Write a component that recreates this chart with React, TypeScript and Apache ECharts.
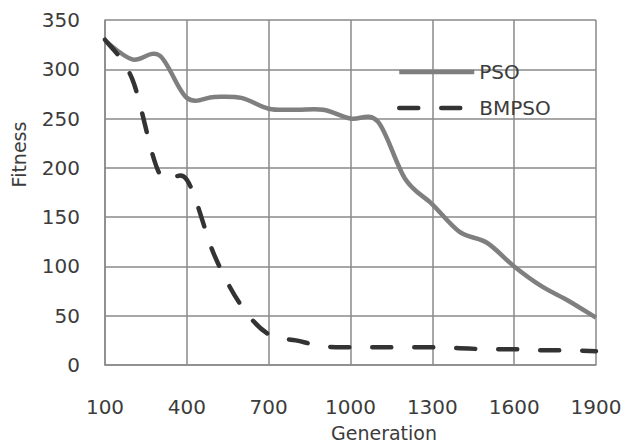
import React, { useEffect, useRef } from "react";
import * as echarts from "echarts";

const generations = [100, 200, 300, 400, 500, 600, 700, 800, 900, 1000, 1100, 1200, 1300, 1400, 1500, 1600, 1700, 1800, 1900];
const psoValues = [329, 310, 314, 271, 272, 271, 260, 259, 259, 250, 247, 189, 163, 135, 124, 100, 80, 65, 48];
const bmpsoValues = [330, 290, 194, 188, 112, 60, 31, 25, 19, 18, 18, 18, 18, 17, 16, 16, 15, 15, 14];
const seriesNames = ["PSO", "BMPSO"];

const FONT = "DejaVu Sans";
const TEXT = "#3c3c3c";
const GRID = "#8a8a8a";
const PSO_COLOR = "#7f7f7f";
const BMPSO_COLOR = "#333333";
const DASH = [19, 23];

function splinePath(pts: number[][]): string {
  let d = `M${pts[0][0]},${pts[0][1]}`;
  for (let i = 0; i < pts.length - 1; i++) {
    const p0 = pts[i - 1] || pts[i];
    const p1 = pts[i];
    const p2 = pts[i + 1];
    const p3 = pts[i + 2] || pts[i + 1];
    const c1x = p1[0] + (p2[0] - p0[0]) / 6;
    const c1y = p1[1] + (p2[1] - p0[1]) / 6;
    const c2x = p2[0] - (p3[0] - p1[0]) / 6;
    const c2y = p2[1] - (p3[1] - p1[1]) / 6;
    d += ` C${c1x},${c1y} ${c2x},${c2y} ${p2[0]},${p2[1]}`;
  }
  return d;
}

function curveSeries(name: string, values: number[], color: string, dash: number[] | null) {
  return {
    name,
    type: "custom",
    silent: true,
    data: generations.map((g, i) => [g, values[i]]),
    encode: { x: 0, y: 1 },
    renderItem: (params: any, api: any) => {
      if (params.dataIndex !== 0) return null;
      const pts = generations.map((g, i) => api.coord([g, values[i]]));
      return {
        type: "path",
        shape: { pathData: splinePath(pts) },
        style: {
          fill: "none",
          stroke: color,
          lineWidth: 4.5,
          lineDash: dash || undefined,
          lineCap: dash ? "round" : "butt",
          lineJoin: "round",
        },
      };
    },
  };
}

export default function App() {
  const ref = useRef<HTMLDivElement>(null);
  useEffect(() => {
    if (!ref.current) return;
    const chart = echarts.init(ref.current, null, { renderer: "svg" });
    chart.setOption({
      animation: false,
      backgroundColor: "#ffffff",
      grid: { left: 105, right: 30, top: 20, bottom: 76, containLabel: false },
      legend: {
        data: [
          { name: seriesNames[0], itemStyle: { opacity: 0 }, lineStyle: { color: PSO_COLOR, width: 4.5 } },
          { name: seriesNames[1], itemStyle: { opacity: 0 }, lineStyle: { color: BMPSO_COLOR, width: 4.5, type: DASH, cap: "round" } },
        ],
        orient: "vertical",
        left: 397,
        top: 62,
        padding: 0,
        itemWidth: 75,
        itemHeight: 20,
        itemGap: 16,
        textStyle: { fontFamily: FONT, fontSize: 20, color: TEXT },
      },
      xAxis: {
        type: "value",
        min: 100,
        max: 1900,
        interval: 300,
        name: "Generation",
        nameLocation: "middle",
        nameGap: 58,
        nameTextStyle: { fontFamily: FONT, fontSize: 19, color: TEXT, padding: [0, 0, 0, 67] },
        axisLine: { show: true, lineStyle: { color: GRID, width: 1.5 } },
        axisTick: { show: false },
        axisLabel: { fontFamily: FONT, fontSize: 20, color: TEXT, margin: 32, formatter: (v: number) => String(v) },
        splitLine: { show: true, lineStyle: { color: GRID, width: 1.5 } },
      },
      yAxis: {
        type: "value",
        min: 0,
        max: 350,
        interval: 50,
        name: "Fitness",
        nameLocation: "middle",
        nameGap: 77,
        nameTextStyle: { fontFamily: FONT, fontSize: 19, color: TEXT, padding: [0, 0, 0, 76] },
        axisLine: { show: true, lineStyle: { color: GRID, width: 1.5 } },
        axisTick: { show: false },
        axisLabel: { fontFamily: FONT, fontSize: 20, color: TEXT, margin: 25, formatter: (v: number) => String(v) },
        splitLine: { show: true, lineStyle: { color: GRID, width: 1.5 } },
      },
      series: [
        {
          name: seriesNames[0],
          type: "line",
          data: [],
          symbol: "none",
          lineStyle: { color: PSO_COLOR, width: 4.5 },
          itemStyle: { color: PSO_COLOR },
        },
        {
          name: seriesNames[1],
          type: "line",
          data: [],
          symbol: "none",
          lineStyle: { color: BMPSO_COLOR, width: 4.5, type: DASH, cap: "round" },
          itemStyle: { color: BMPSO_COLOR },
        },
        curveSeries(seriesNames[0], psoValues, PSO_COLOR, null),
        curveSeries(seriesNames[1], bmpsoValues, BMPSO_COLOR, DASH),
      ],
    });
    return () => chart.dispose();
  }, []);
  return <div ref={ref} style={{ position: "fixed", left: 0, top: 0, width: 626, height: 447 }} />;
}
